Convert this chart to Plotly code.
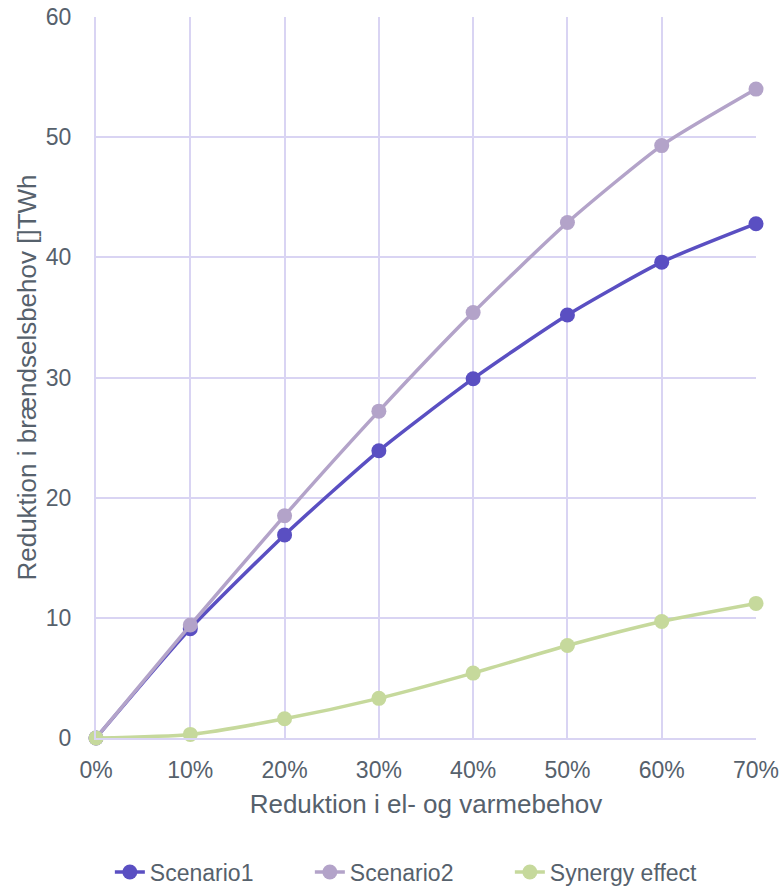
import plotly.graph_objects as go

categories = ["0%", "10%", "20%", "30%", "40%", "50%", "60%", "70%"]
scenario1 = [0, 9.1, 16.9, 23.9, 29.9, 35.2, 39.6, 42.8]
scenario2 = [0, 9.4, 18.5, 27.2, 35.4, 42.9, 49.3, 54.0]
synergy = [0, 0.3, 1.6, 3.3, 5.4, 7.7, 9.7, 11.2]

x_vals = list(range(len(categories)))

series = [
    ("Scenario1", scenario1, "#5A4FC2"),
    ("Scenario2", scenario2, "#B3A3C9"),
    ("Synergy effect", synergy, "#C6D99C"),
]

text_color = "#56616C"
grid_color = "#D9D4F3"
font_fam = "Liberation Sans, Arial, sans-serif"

fig = go.Figure()
for name, vals, col in series:
    fig.add_trace(go.Scatter(
        x=x_vals, y=vals, name=name, mode="lines+markers",
        line=dict(color=col, width=3.5, shape="spline", smoothing=0.6),
        marker=dict(color=col, size=15),
        cliponaxis=False,
    ))

fig.update_layout(
    width=784, height=888,
    margin=dict(l=96, r=28, t=17, b=150, autoexpand=False),
    paper_bgcolor="white", plot_bgcolor="white",
    font=dict(family=font_fam, color=text_color, size=23),
    showlegend=True,
    legend=dict(orientation="h", x=0.021, xanchor="left", y=-0.186, yanchor="middle",
                font=dict(size=23, color=text_color, family=font_fam),
                entrywidth=155, entrywidthmode="pixels",
                bgcolor="rgba(0,0,0,0)"),
)
fig.update_xaxes(
    range=[0, 7], tickvals=x_vals, ticktext=categories,
    showgrid=True, gridcolor=grid_color, gridwidth=1.5,
    zeroline=False, showline=True, linecolor=grid_color, linewidth=2,
    ticks="", ticklabelstandoff=10, automargin=False,
    tickfont=dict(size=23, color=text_color, family=font_fam),
    title=dict(text="Reduktion i el- og varmebehov",
               font=dict(size=26, color=text_color, family=font_fam), standoff=13),
)
fig.update_yaxes(
    range=[0, 60], dtick=10,
    showgrid=True, gridcolor=grid_color, gridwidth=1.5,
    zeroline=False, showline=True, linecolor=grid_color, linewidth=2,
    ticks="", ticklabelstandoff=18, automargin=False,
    tickfont=dict(size=23, color=text_color, family=font_fam),
    title=dict(text="Reduktion i brændselsbehov []TWh",
               font=dict(size=26, color=text_color, family=font_fam), standoff=2),
)

fig.write_html("out.html", config={"displayModeBar": False},
               post_script="document.body.style.margin='0';")
